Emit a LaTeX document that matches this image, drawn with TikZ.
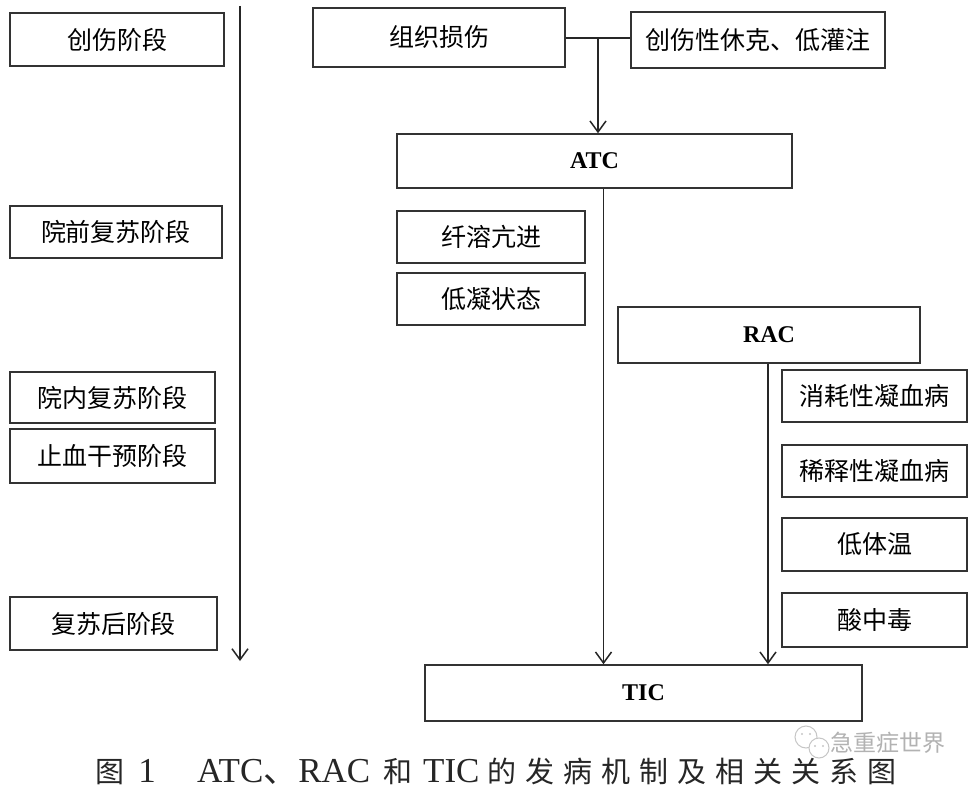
\documentclass[tikz,border=0pt]{standalone}
\usepackage{fontspec}
\setmainfont{Liberation Serif}
\newfontfamily\cjk{Noto Sans CJK SC}
\usetikzlibrary{arrows.meta}
\tikzset{
  boxsty/.style={draw=black!80, line width=1.5pt, inner sep=0pt, fill=white,
    font=\cjk\fontsize{25}{25}\selectfont},
  latinbox/.style={font=\bfseries\fontsize{24}{24}\selectfont},
  conn/.style={draw=black!85, line width=1.5pt},
  arr/.style={conn, -{Straight Barb[length=11pt,width=16pt]}},
  captxt/.style={inner sep=0pt, anchor=base, font=\cjk\fontsize{29}{29}\selectfont, text=black!85},
  caplat/.style={inner sep=0pt, anchor=base west, font=\fontsize{35}{35}\selectfont, text=black!85},
}
\newcommand\mybox[7][]{\node[boxsty,#1, minimum width={(#4-#2)*1pt}, minimum height={(#5-#3)*1pt}] (#6) at ({(#2+#4)/2},{(#3+#5)/2}) {#7};}
\begin{document}
\begin{tikzpicture}[x=1pt,y=-1pt]
\useasboundingbox (0,0) rectangle (978,792);
\fill[white] (0,0) rectangle (978,792);
% left column
\mybox{10}{13}{224}{66}{s1}{创伤阶段}
\mybox{10}{206}{222}{258}{s2}{院前复苏阶段}
\mybox{10}{372}{215}{423}{s3}{院内复苏阶段}
\mybox{10}{429}{215}{483}{s4}{止血干预阶段}
\mybox{10}{597}{217}{650}{s5}{复苏后阶段}
\coordinate (t0) at (240,6);
\coordinate (t1) at (240,661);
\draw[arr] (t0) -- (t1);
% middle
\mybox{313}{8}{565}{67}{zz}{组织损伤}
\mybox{631}{12}{885}{68}{shock}{创伤性休克、低灌注}
\mybox[latinbox]{397}{134}{792}{188}{atc}{ATC}
\mybox{397}{211}{585}{263}{xr}{纤溶亢进}
\mybox{397}{273}{585}{325}{dn}{低凝状态}
\mybox[latinbox]{618}{307}{920}{363}{rac}{RAC}
\mybox{782}{370}{967}{422}{r1}{消耗性凝血病}
\mybox{782}{445}{967}{497}{r2}{稀释性凝血病}
\mybox{782}{518}{967}{571}{r3}{低体温}
\mybox{782}{593}{967}{647}{r4}{酸中毒}
\mybox[latinbox]{425}{665}{862}{721}{tic}{TIC}
% connectors
\coordinate (j) at (598,38);
\draw[conn] (zz.east |- j) -- (shock.west |- j);
\draw[arr] (j) -- (j |- atc.north);
\draw[arr] ([xshift=9pt]atc.south) -- ([xshift=9pt]atc.south |- tic.north);
\draw[arr] ([xshift=-1pt]rac.south) -- ([xshift=-1pt]rac.south |- tic.north);
% caption
\node[captxt] (c1) at (110,782) {图};
\node[caplat, anchor=base] (c2) at (147,782) {1};
\node[caplat] (c3) at (197,782) {ATC{\cjk 、}RAC};
\node[captxt] (c4) at (398,782) {和};
\node[caplat] (c5) at (423,782) {TIC};
\foreach \c [count=\i] in {的,发,病,机,制,及,相,关,关,系,图}
  \node[captxt] (cc\i) at ({502+38*(\i-1)},782) {\c};
% watermark
\draw[gray!45, line width=1pt, fill=white] (806,737) circle (11);
\fill[gray!45] (802,734) circle (1.2) (810,734) circle (1.2);
\draw[gray!45, line width=1pt, fill=white] (819,748) circle (10);
\fill[gray!45] (815,746) circle (1.2) (823,746) circle (1.2);
\node[inner sep=0pt, anchor=west, text=gray!60, font=\cjk\fontsize{23}{23}\selectfont] (wm) at (830,743) {急重症世界};
\end{tikzpicture}
\end{document}
